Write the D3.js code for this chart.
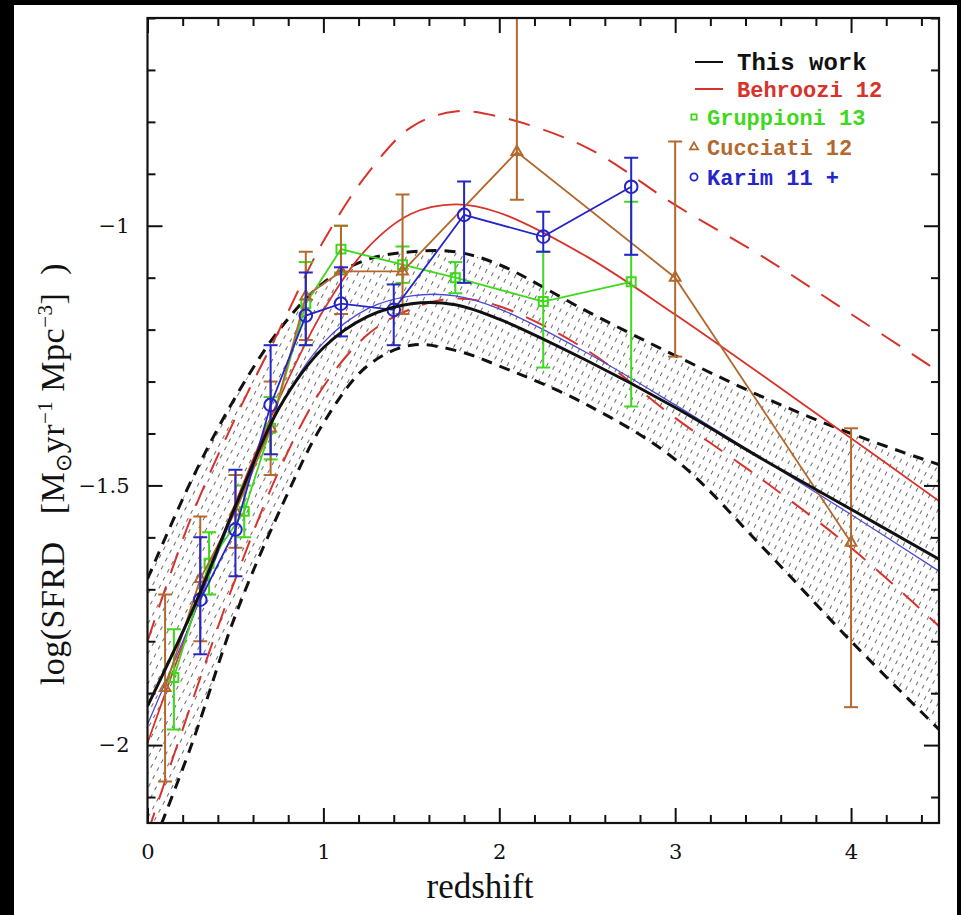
<!DOCTYPE html>
<html>
<head>
<meta charset="utf-8">
<script src="https://cdn.jsdelivr.net/npm/d3@7"></script>
<style>
  body { margin: 0; background: #000; }
  svg { display: block; }
</style>
</head>
<body>
<div class="sfrd-chart"></div>
<script>
// redshift grid the model curves are read at
const zGrid = [0, 0.25, 0.5, 0.75, 1, 1.25, 1.5, 1.75, 2, 2.5, 3, 3.5, 4, 4.5];
const thisWork   = [-1.925, -1.745, -1.54, -1.35, -1.235, -1.175, -1.15, -1.152, -1.18, -1.26, -1.35, -1.45, -1.546, -1.642];
const bandUpper  = [-1.68, -1.49, -1.33, -1.20, -1.11, -1.065, -1.05, -1.05, -1.075, -1.165, -1.25, -1.33, -1.40, -1.46];
const bandLower  = [-2.22, -2.00, -1.75, -1.55, -1.38, -1.27, -1.23, -1.24, -1.27, -1.345, -1.45, -1.62, -1.80, -1.97];
const behroozi   = [-1.996, -1.76, -1.534, -1.332, -1.163, -1.043, -0.977, -0.959, -0.975, -1.06, -1.171, -1.289, -1.409, -1.53];
const behUpper   = [-1.80, -1.56, -1.37, -1.20, -1.03, -0.90, -0.81, -0.78, -0.79, -0.85, -0.96, -1.06, -1.17, -1.281];
const behLower   = [-2.17, -1.92, -1.68, -1.47, -1.31, -1.21, -1.16, -1.14, -1.155, -1.24, -1.37, -1.49, -1.62, -1.771];
const karimFit   = [-1.96, -1.76, -1.545, -1.35, -1.225, -1.16, -1.135, -1.135, -1.16, -1.245, -1.345, -1.45, -1.556, -1.665];

// data points: z, value, lower end of bar, upper end of bar
const gruppZ   = [0.15, 0.35, 0.55, 0.7, 0.9, 1.1, 1.45, 1.75, 2.25, 2.75];
const gruppVal = [-1.87, -1.65, -1.55, -1.39, -1.15, -1.045, -1.075, -1.10, -1.146, -1.108];
const gruppLo  = [-1.97, -1.71, -1.60, -1.45, -1.23, -1.09, -1.11, -1.13, -1.273, -1.348];
const gruppHi  = [-1.777, -1.59, -1.50, -1.33, -1.07, -1.00, -1.04, -1.07, -1.05, -0.954];

const cucZ   = [0.1, 0.3, 0.5, 0.7, 0.9, 1.1, 1.45, 2.1, 3, 4];
const cucVal = [-1.89, -1.68, -1.55, -1.39, -1.136, -1.088, -1.088, -0.858, -1.10, -1.61];
const cucLo  = [-2.07, -1.80, -1.62, -1.48, -1.22, -1.17, -1.17, -0.95, -1.252, -1.927];
const cucHi  = [-1.71, -1.56, -1.48, -1.30, -1.05, -1.00, -0.94, -0.45, -0.838, -1.39];

const karZ   = [0.3, 0.5, 0.7, 0.9, 1.1, 1.4, 1.8, 2.25, 2.75];
const karVal = [-1.72, -1.585, -1.345, -1.173, -1.15, -1.162, -0.979, -1.021, -0.925];
const karLo  = [-1.825, -1.675, -1.44, -1.23, -1.213, -1.23, -1.11, -1.05, -1.056];
const karHi  = [-1.60, -1.47, -1.23, -1.09, -1.08, -1.113, -0.915, -0.973, -0.869];

const xMajor = [0, 1, 2, 3, 4];
const yMajor = [-1, -1.5, -2];

const legendItems = [
    {name: "This work",    color: "#111111", mark: "line"},
    {name: "Behroozi 12",  color: "#d8322b", mark: "line"},
    {name: "Gruppioni 13", color: "#3ed81c", mark: "square"},
    {name: "Cucciati 12",  color: "#b3692e", mark: "triangle"},
    {name: "Karim 11 +",   color: "#2525c8", mark: "circle"}
];

const RED = "#d8322b", GREEN = "#3ed81c", BROWN = "#b3692e", BLUE = "#2525c8";

const width = 961, height = 915;
const margin = {top: 18, right: 22, bottom: 92, left: 147.5};

const svg = d3.select(".sfrd-chart")
    .append("svg")
    .attr("width", width)
    .attr("height", height);

// white page on black
svg.append("rect")
    .attr("x", 14).attr("y", 5)
    .attr("width", 943).attr("height", 910)
    .attr("fill", "white");

const x = d3.scaleLinear().domain([0, 4.5]).range([margin.left, width - margin.right]);
const y = d3.scaleLinear().domain([-2.15, -0.6]).range([height - margin.bottom, margin.top]);

const defs = svg.append("defs");
defs.append("clipPath").attr("id", "plot-clip")
    .append("rect")
    .attr("x", x(0)).attr("y", y(-0.6))
    .attr("width", x(4.5) - x(0)).attr("height", y(-2.15) - y(-0.6));

// little dashed strokes for the shaded band
const hatch = defs.append("pattern")
    .attr("id", "hatch")
    .attr("patternUnits", "userSpaceOnUse")
    .attr("width", 7).attr("height", 9)
    .attr("patternTransform", "rotate(28)");
hatch.append("line")
    .attr("x1", 3.5).attr("y1", 0).attr("x2", 3.5).attr("y2", 9)
    .attr("stroke", "#6a6a6a")
    .attr("stroke-width", 1)
    .attr("stroke-dasharray", "4,5");

const plot = svg.append("g").attr("clip-path", "url(#plot-clip)");

const zip = arr => zGrid.map((z, i) => [z, arr[i]]);
const smooth = d3.curveCatmullRom.alpha(0.5);
const line = d3.line().x(d => x(d[0])).y(d => y(d[1])).curve(smooth);

// shaded band between the dashed black curves
plot.append("path")
    .datum(zGrid.map((z, i) => [z, bandLower[i], bandUpper[i]]))
    .attr("d", d3.area()
        .x(d => x(d[0]))
        .y0(d => y(d[1]))
        .y1(d => y(d[2]))
        .curve(smooth))
    .attr("fill", "url(#hatch)");

// model curves
const curves = [
    {data: bandUpper, color: "#111", w: 3, dash: "11,8"},
    {data: bandLower, color: "#111", w: 3, dash: "11,8"},
    {data: behUpper,  color: RED,   w: 2, dash: "22,14"},
    {data: behLower,  color: RED,   w: 2, dash: "22,14"},
    {data: behroozi,  color: RED,   w: 1.8, dash: null},
    {data: karimFit,  color: "#4a4ad8", w: 1.3, dash: null}
];
curves.forEach(c => {
    plot.append("path")
        .datum(zip(c.data))
        .attr("d", line)
        .attr("fill", "none")
        .attr("stroke", c.color)
        .attr("stroke-width", c.w)
        .attr("stroke-dasharray", c.dash);
});

// data sets with error bars
function drawSet(zs, vals, los, his, color, mark) {
    const g = plot.append("g");
    const pts = zs.map((z, i) => ({z: z, v: vals[i], lo: los[i], hi: his[i]}));
    g.append("path")
        .datum(pts.map(p => [p.z, p.v]))
        .attr("d", d3.line().x(d => x(d[0])).y(d => y(d[1])))
        .attr("fill", "none")
        .attr("stroke", color)
        .attr("stroke-width", 1.8);
    const bars = g.selectAll(".bar").data(pts).enter().append("g");
    bars.append("line")
        .attr("x1", d => x(d.z)).attr("x2", d => x(d.z))
        .attr("y1", d => y(d.lo)).attr("y2", d => y(d.hi))
        .attr("stroke", color).attr("stroke-width", 2);
    [d => d.lo, d => d.hi].forEach(f => {
        bars.append("line")
            .attr("x1", d => x(d.z) - 7).attr("x2", d => x(d.z) + 7)
            .attr("y1", d => y(f(d))).attr("y2", d => y(f(d)))
            .attr("stroke", color).attr("stroke-width", 2);
    });
    const sym = mark === "square" ? d3.symbolSquare : mark === "triangle" ? d3.symbolTriangle : d3.symbolCircle;
    const size = mark === "circle" ? 125 : mark === "triangle" ? 50 : 80;
    bars.append("path")
        .attr("transform", d => `translate(${x(d.z)},${y(d.v)})`)
        .attr("d", d3.symbol().type(sym).size(size))
        .attr("fill", "none")
        .attr("stroke", color)
        .attr("stroke-width", 2);
}
drawSet(gruppZ, gruppVal, gruppLo, gruppHi, GREEN, "square");
drawSet(cucZ, cucVal, cucLo, cucHi, BROWN, "triangle");
drawSet(karZ, karVal, karLo, karHi, BLUE, "circle");

// this work on top
plot.append("path")
    .datum(zip(thisWork))
    .attr("d", line)
    .attr("fill", "none")
    .attr("stroke", "#111")
    .attr("stroke-width", 3);

// axes, ticks pointing inward on all four sides
const xMinor = d3.range(0, 4.5001, 0.2).filter(v => Math.abs(v - Math.round(v)) > 1e-6);
const yMinor = d3.range(-2.1, -0.59, 0.1).filter(v => Math.abs(v * 2 - Math.round(v * 2)) > 1e-6);
const bottomY = y(-2.15), topY = y(-0.6), leftX = x(0), rightX = x(4.5);

function styleAxis(g) {
    g.select(".domain").remove();
    g.selectAll(".tick line").attr("stroke", "#111").attr("stroke-width", 2);
}

svg.append("g").attr("transform", `translate(0,${bottomY})`)
    .call(d3.axisBottom(x).tickValues(xMajor).tickSize(-15).tickPadding(21).tickFormat(d3.format("d")))
    .call(styleAxis)
    .selectAll("text")
    .style("font-family", "DejaVu Serif")
    .style("font-size", "21px")
    .attr("fill", "#111");
svg.append("g").attr("transform", `translate(0,${bottomY})`)
    .call(d3.axisBottom(x).tickValues(xMinor).tickSize(-8).tickFormat(""))
    .call(styleAxis);
svg.append("g").attr("transform", `translate(0,${topY})`)
    .call(d3.axisTop(x).tickValues(xMajor).tickSize(-15).tickFormat(""))
    .call(styleAxis);
svg.append("g").attr("transform", `translate(0,${topY})`)
    .call(d3.axisTop(x).tickValues(xMinor).tickSize(-8).tickFormat(""))
    .call(styleAxis);

svg.append("g").attr("transform", `translate(${leftX},0)`)
    .call(d3.axisLeft(y).tickValues(yMajor).tickSize(-15).tickPadding(18).tickFormat(d3.format("")))
    .call(styleAxis)
    .selectAll("text")
    .style("font-family", "DejaVu Serif")
    .style("font-size", "21px")
    .attr("fill", "#111");
svg.append("g").attr("transform", `translate(${leftX},0)`)
    .call(d3.axisLeft(y).tickValues(yMinor).tickSize(-8).tickFormat(""))
    .call(styleAxis);
svg.append("g").attr("transform", `translate(${rightX},0)`)
    .call(d3.axisRight(y).tickValues(yMajor).tickSize(-15).tickFormat(""))
    .call(styleAxis);
svg.append("g").attr("transform", `translate(${rightX},0)`)
    .call(d3.axisRight(y).tickValues(yMinor).tickSize(-8).tickFormat(""))
    .call(styleAxis);

// frame
svg.append("rect")
    .attr("x", leftX).attr("y", topY)
    .attr("width", rightX - leftX).attr("height", bottomY - topY)
    .attr("fill", "none")
    .attr("stroke", "#111")
    .attr("stroke-width", 2.2);

// axis titles
svg.append("text")
    .attr("x", 480).attr("y", 898)
    .attr("text-anchor", "middle")
    .style("font-family", "Liberation Serif")
    .style("font-size", "35px")
    .attr("fill", "#111")
    .text("redshift");

const ylab = svg.append("text")
    .attr("transform", "translate(64,474) rotate(-90)")
    .attr("text-anchor", "middle")
    .style("font-family", "Liberation Serif")
    .style("font-size", "34px")
    .style("letter-spacing", "0.5px")
    .style("white-space", "pre")
    .attr("fill", "#111");
ylab.append("tspan").text("log(SFRD   [M");
ylab.append("tspan").attr("dy", 7).style("font-size", "22px").text("⊙");
ylab.append("tspan").attr("dy", -7).text("yr");
ylab.append("tspan").attr("dy", -12).style("font-size", "21px").text("−1");
ylab.append("tspan").attr("dy", 12).text(" Mpc");
ylab.append("tspan").attr("dy", -12).style("font-size", "21px").text("−3");
ylab.append("tspan").attr("dy", 12).text("]  )");

// legend
const legendY = [62, 89, 117, 147, 177];
const legend = svg.selectAll(".leg")
    .data(legendItems)
    .enter()
    .append("g")
    .attr("transform", (d, i) => `translate(0, ${legendY[i]})`);

legend.filter(d => d.mark === "line").append("line")
    .attr("x1", 695).attr("x2", 723)
    .attr("stroke", d => d.color).attr("stroke-width", 2);
legend.filter(d => d.mark !== "line").append("path")
    .attr("transform", "translate(694,0)")
    .attr("d", d => d3.symbol()
        .type(d.mark === "square" ? d3.symbolSquare : d.mark === "triangle" ? d3.symbolTriangle : d3.symbolCircle)
        .size(d.mark === "circle" ? 40 : 28)())
    .attr("fill", "none")
    .attr("stroke", d => d.color)
    .attr("stroke-width", 1.8);
legend.append("text")
    .attr("x", d => d.mark === "line" ? 737 : 707)
    .attr("dy", "0.35em")
    .style("font-family", "Liberation Mono")
    .style("font-weight", "bold")
    .style("font-size", (d, i) => i === 0 ? "24px" : "22px")
    .attr("fill", d => d.color)
    .text(d => d.name);
</script>
</body>
</html>
